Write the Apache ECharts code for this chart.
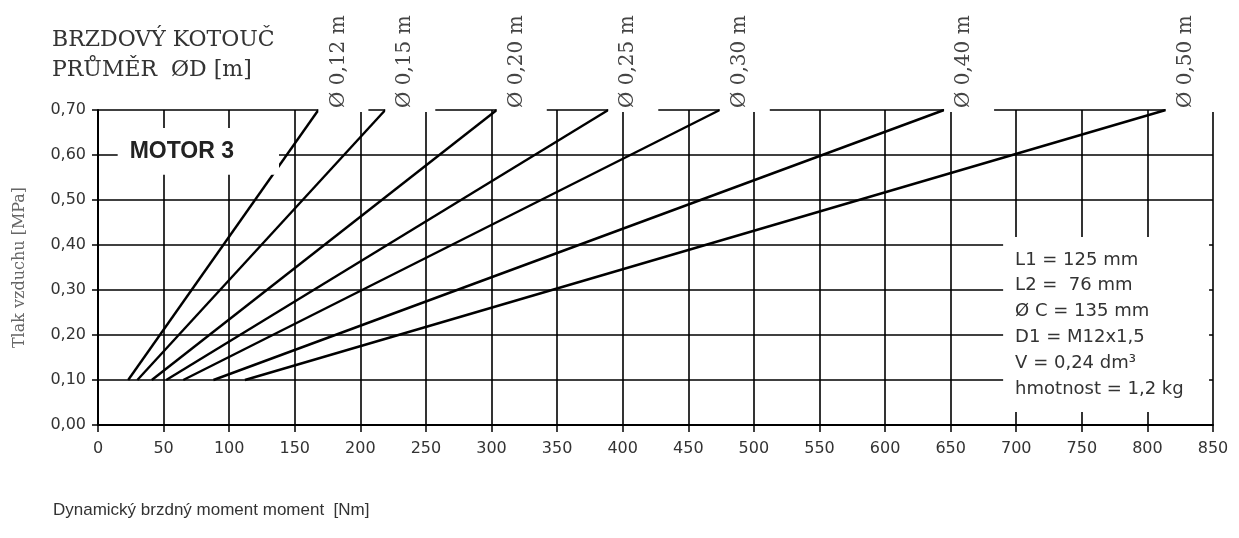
<!DOCTYPE html>
<html>
<head>
<meta charset="utf-8">
<script src="https://cdn.jsdelivr.net/npm/echarts@6/dist/echarts.min.js"></script>
<style>html,body{margin:0;padding:0;background:#fff}#c{width:1239px;height:538px}</style>
</head>
<body>
<div id="c"></div>
<script>
// Brake disc diameters (series names)
const diameters = ['Ø 0,12 m', 'Ø 0,15 m', 'Ø 0,20 m', 'Ø 0,25 m', 'Ø 0,30 m', 'Ø 0,40 m', 'Ø 0,50 m'];
// Air pressure at the two ends of each line [MPa]
const pressures = [0.10, 0.70];
// Dynamic braking torque at 0.10 MPa and 0.70 MPa [Nm]
const torqueLow = [23, 30, 41, 52, 65, 88, 112];
const torqueHigh = [168, 219, 304, 389, 474, 645, 814];
// Annotation texts
const titleText = 'BRZDOVÝ KOTOUČ\nPRŮMĚR  ØD [m]';
const xName = 'Dynamický brzdný moment moment  [Nm]';
const yName = 'Tlak vzduchu [MPa]';
const motorText = 'MOTOR 3';
const infoLines = ['L1 = 125 mm', 'L2 =  76 mm', 'Ø C = 135 mm', 'D1 = M12x1,5', 'V = 0,24 dm³', 'hmotnost = 1,2 kg'];
// Annotation box extents in data units
const motorBox = {x: [15, 138], y: [0.556, 0.66]};
const infoBox = {x: [690, 847], y: [0.029, 0.418]};

const chart = echarts.init(document.getElementById('c'), null, {renderer: 'canvas'});

const lineSeries = diameters.map((name, i) => ({
  name: name,
  type: 'line',
  z: 2,
  silent: true,
  animation: false,
  showSymbol: true,
  symbol: 'circle',
  symbolSize: 0,
  lineStyle: {color: '#000', width: 2.4},
  itemStyle: {color: '#000'},
  data: [
    [torqueLow[i], pressures[0]],
    {
      value: [torqueHigh[i], pressures[1]],
      label: {
        show: true,
        formatter: name,
        position: 'inside',
        rotate: 90,
        align: 'left',
        verticalAlign: 'top',
        offset: [-2, 0],
        padding: [10, 2, 20, 4],
        backgroundColor: '#fff',
        fontFamily: 'DejaVu Serif',
        fontSize: 20,
        lineHeight: 20,
        color: '#444'
      }
    }
  ]
}));

const annotSeries = {
  name: 'annot',
  type: 'line',
  z: 5,
  silent: true,
  animation: false,
  data: [],
  markArea: {
    z: 5,
    silent: true,
    itemStyle: {color: '#fff', opacity: 1, borderWidth: 0},
    data: [
      [
        {xAxis: motorBox.x[0], yAxis: motorBox.y[1], name: motorText,
         label: {show: true, position: 'insideLeft', distance: 12, fontFamily: 'Liberation Sans', fontWeight: 'bold', fontSize: 23, color: '#222'}},
        {xAxis: motorBox.x[1], yAxis: motorBox.y[0]}
      ],
      [
        {xAxis: infoBox.x[0], yAxis: infoBox.y[1], name: infoLines.join('\n'),
         label: {show: true, position: 'insideLeft', distance: 12, align: 'left', fontFamily: 'DejaVu Sans', fontSize: 18, lineHeight: 25.8, color: '#333'}},
        {xAxis: infoBox.x[1], yAxis: infoBox.y[0]}
      ]
    ]
  }
};

const option = {
  backgroundColor: '#fff',
  animation: false,
  title: [
    {text: titleText, left: 52, top: 25, padding: 0,
     textStyle: {fontFamily: 'DejaVu Serif', fontSize: 22, lineHeight: 30, fontWeight: 'normal', color: '#333'}},
    {text: xName, left: 53, top: 500, padding: 0,
     textStyle: {fontFamily: 'Liberation Sans', fontSize: 17, lineHeight: 20, fontWeight: 'normal', color: '#333'}}
  ],
  grid: {left: 98, right: 26, top: 110, bottom: 113, containLabel: false},
  xAxis: {
    type: 'value', min: 0, max: 850, interval: 50,
    axisLine: {show: true, onZero: false, lineStyle: {color: '#000', width: 2}},
    axisTick: {show: true, length: 7, lineStyle: {color: '#000', width: 1.5}},
    axisLabel: {margin: 16, fontFamily: 'DejaVu Sans', fontSize: 16, color: '#333'},
    splitLine: {show: true, lineStyle: {color: '#000', width: 1.6}}
  },
  yAxis: {
    type: 'value', min: 0, max: 0.7, interval: 0.1,
    name: yName, nameLocation: 'middle', nameGap: 70,
    nameTextStyle: {fontFamily: 'DejaVu Serif', fontSize: 16, color: '#666'},
    axisLine: {show: true, onZero: false, lineStyle: {color: '#000', width: 2}},
    axisTick: {show: true, length: 6, lineStyle: {color: '#000', width: 1.5}},
    axisLabel: {margin: 12, fontFamily: 'DejaVu Sans', fontSize: 16, color: '#333',
      formatter: v => v.toFixed(2).replace('.', ',')},
    splitLine: {show: true, lineStyle: {color: '#000', width: 1.6}}
  },
  series: lineSeries.concat([annotSeries])
};
chart.setOption(option);
</script>
</body>
</html>
